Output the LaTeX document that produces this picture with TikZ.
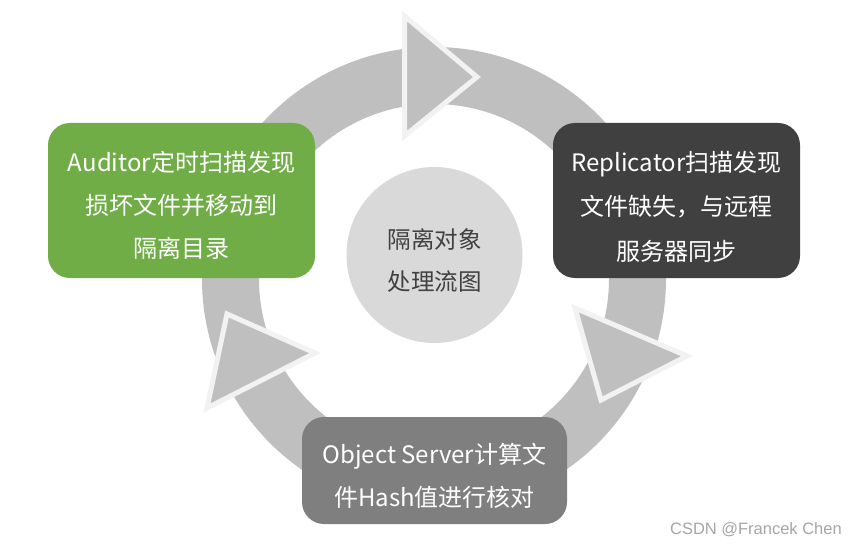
\documentclass[tikz,border=0pt]{standalone}
\usepackage{fontspec}
\setmainfont{Noto Sans CJK SC}
\newfontfamily\wmfont{Liberation Sans}
\definecolor{ringc}{HTML}{BFBFBF}
\definecolor{arrowline}{HTML}{F2F2F2}
\definecolor{greenbox}{HTML}{70AD47}
\definecolor{darkbox}{HTML}{404040}
\definecolor{graybox}{HTML}{7F7F7F}
\definecolor{centerc}{HTML}{D9D9D9}
\definecolor{centertext}{HTML}{404040}
\definecolor{wmcolor}{HTML}{A6A6A6}
\tikzset{
  stagebox/.style={rounded corners=22pt, inner sep=0pt},
  boxtext/.style={align=center, text=white, inner sep=0pt, font=\fontsize{24}{43}\selectfont},
  arrowtri/.style={fill=ringc, draw=arrowline, line width=5pt, line join=miter},
}
\begin{document}
\begin{tikzpicture}[x=1pt,y=-1pt]
\useasboundingbox (0,0) rectangle (857,548);
\fill[white] (0,0) rectangle (857,548);
% ring
\fill[ringc, even odd rule] (434,279) circle[radius=232pt] (434,279) circle[radius=175pt];
% arrows
\draw[arrowtri] (404.5,16) -- (404.5,136) -- (477,77) -- cycle;
\draw[arrowtri] (575,308) -- (601,400) -- (687,356) -- cycle;
\draw[arrowtri] (227,314) -- (207,408) -- (315,353) -- cycle;
% center
\node[circle, fill=centerc, minimum size=176pt, inner sep=0pt] (center) at (434.5,255) {};
\node[align=center, inner sep=0pt, text=centertext, font=\fontsize{23.5}{42}\selectfont]
  at ([yshift=-5pt]center.center) {隔离对象\\处理流图};
% boxes
\node[stagebox, fill=greenbox, minimum width=267pt, minimum height=155pt] (auditor) at (181.5,200.5) {};
\node[boxtext] at ([yshift=-5pt]auditor.center) {Auditor定时扫描发现\\损坏文件并移动到\\隔离目录};
\node[stagebox, fill=darkbox, minimum width=247pt, minimum height=155pt] (replicator) at (676.5,200.5) {};
\node[boxtext, font=\fontsize{24}{44.5}\selectfont] at ([yshift=-6pt]replicator.center)
  {Replicator扫描发现\\文件缺失，与远程\\服务器同步};
\node[stagebox, fill=graybox, minimum width=265pt, minimum height=107pt] (objserver) at (434.5,470.5) {};
\node[boxtext] at ([yshift=-5pt]objserver.center) {Object Server计算文\\件Hash值进行核对};
% watermark
\node[text=wmcolor, font=\wmfont\fontsize{16.5}{18}\selectfont, anchor=east, inner sep=0pt] (wm) at (842,530)
  {CSDN @Francek Chen};
\end{tikzpicture}
\end{document}
